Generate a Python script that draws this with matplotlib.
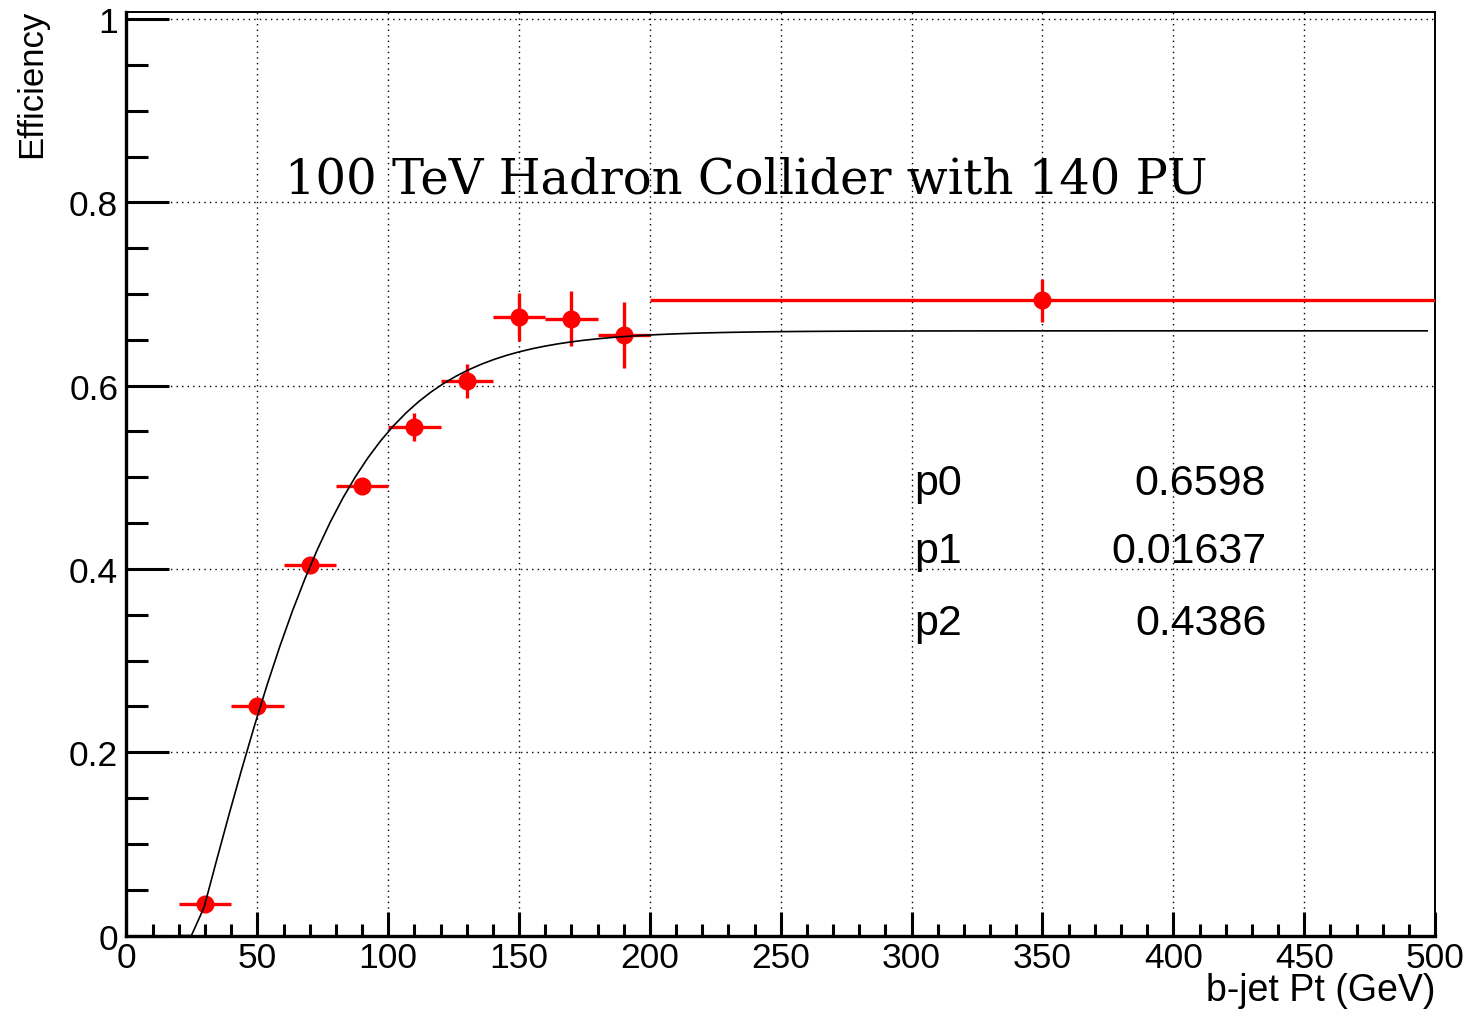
import numpy as np
import matplotlib.pyplot as plt
from matplotlib.ticker import MultipleLocator

# data points (bin centres, efficiency, errors)
pt = [30, 50, 70, 90, 110, 130, 150, 170, 190, 350]
pt_err = [10, 10, 10, 10, 10, 10, 10, 10, 10, 150]
eff = [0.034, 0.250, 0.404, 0.490, 0.555, 0.605, 0.675, 0.673, 0.655, 0.693]
eff_err = [0.005, 0.006, 0.007, 0.008, 0.015, 0.019, 0.026, 0.030, 0.036, 0.0235]

# fit result: p0 * tanh(p1 * x - p2)
p0, p1, p2 = 0.6598, 0.01637, 0.4386
fit_names = ["p0", "p1", "p2"]
fit_vals = ["0.6598", "0.01637", "0.4386"]

plt.rcParams['font.family'] = ['Liberation Sans', 'DejaVu Sans']

fig = plt.figure(figsize=(14.69, 10.12), dpi=100)
ax = fig.add_axes([0.0861, 0.0746, 0.8908, 0.9130])

ax.errorbar(pt, eff, xerr=pt_err, yerr=eff_err, fmt='o', color='red',
            markersize=12, elinewidth=2.4, capsize=0, zorder=3)

xf = np.linspace(20, 497, 100)
yf = p0 * np.tanh(p1 * xf - p2)
yf = np.clip(yf, 0, None)
ax.plot(xf, yf, color='black', lw=1.2, zorder=4)

ax.set_xlim(0, 500)
ax.set_ylim(0, 1.0082)
ax.xaxis.set_major_locator(MultipleLocator(50))
ax.xaxis.set_minor_locator(MultipleLocator(10))
ax.yaxis.set_minor_locator(MultipleLocator(0.05))
ax.set_yticks([0, 0.2, 0.4, 0.6, 0.8, 1.0])
ax.set_yticklabels(["0", "0.2", "0.4", "0.6", "0.8", "1"])

ax.grid(True, which='major', color='black', linestyle=(0, (1, 3)), lw=1.0)

ax.tick_params(axis='y', which='major', direction='in', length=31, width=2.2,
               labelsize=25.5, pad=6, right=False)
ax.tick_params(axis='y', which='minor', direction='in', length=16, width=2.2, right=False)
ax.tick_params(axis='x', which='major', direction='in', length=17, width=2.2,
               labelsize=25.5, pad=4, top=False)
ax.tick_params(axis='x', which='minor', direction='in', length=9, width=2.2, top=False)

for side in ['left', 'bottom']:
    ax.spines[side].set_linewidth(2.4)
for side in ['top', 'right']:
    ax.spines[side].set_linewidth(1.4)

ax.text(60.5, 0.825, "100 TeV Hadron Collider with 140 PU",
        family='DejaVu Serif', fontsize=34.6, ha='left', va='center')

fit_y = [0.4817, 0.4076, 0.3290]
for n, v, yy in zip(fit_names, fit_vals, fit_y):
    ax.text(301, yy, n, fontsize=31, ha='left', va='baseline')
    ax.text(435.5, yy, v, fontsize=31, ha='right', va='baseline')

fig.text(1435 / 1469, 1 - 1001 / 1012, "b-jet Pt (GeV)", fontsize=27,
         ha='right', va='baseline')
fig.text(32 / 1469, 1 - 10 / 1012, "Efficiency", fontsize=25,
         ha='center', va='top', rotation=90)

fig.savefig("out.png", dpi=100)
